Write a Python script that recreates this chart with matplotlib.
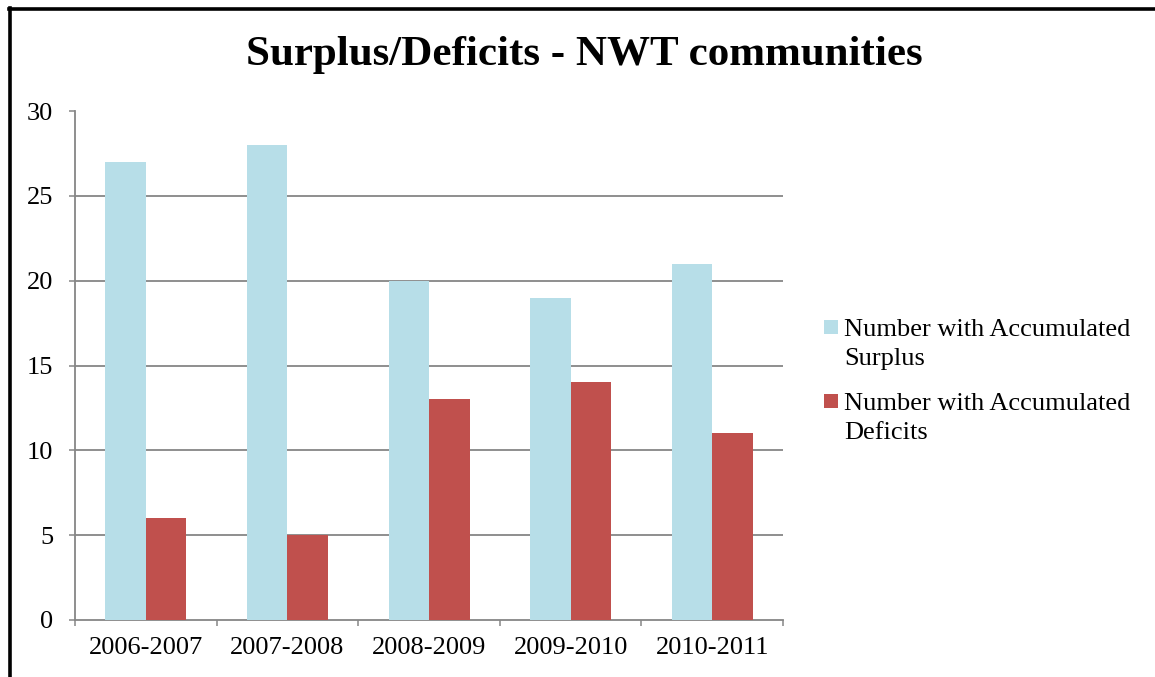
import matplotlib
matplotlib.use("Agg")
import matplotlib.pyplot as plt
from matplotlib.lines import Line2D
from matplotlib.patches import Rectangle
import numpy as np

plt.rcParams['font.family'] = ['Liberation Serif', 'DejaVu Serif']

# Fiscal years and counts of communities
years = ["2006-2007", "2007-2008", "2008-2009", "2009-2010", "2010-2011"]
surplus = [27, 28, 20, 19, 21]
deficits = [6, 5, 13, 14, 11]
series_labels = ["Number with Accumulated\nSurplus", "Number with Accumulated\nDeficits"]
y_ticks = [0, 5, 10, 15, 20, 25, 30]

surplus_color = "#B7DEE8"
deficit_color = "#C0504D"
axis_gray = "#868686"

W, H = 1155, 677
fig = plt.figure(figsize=(W / 100, H / 100), dpi=100)
ax = fig.add_axes([0.0649, 0.0842, 0.6131, 0.7518])

x = np.arange(len(years))
w = 0.286
ax.bar(x - w / 2, surplus, width=w, color=surplus_color, zorder=3)
ax.bar(x + w / 2, deficits, width=w, color=deficit_color, zorder=3)

ax.set_xlim(-0.5, len(years) - 0.5)
ax.set_ylim(0, 30)

# Horizontal gridlines (no line at the top value)
for v in y_ticks[1:-1]:
    ax.axhline(v, color=axis_gray, lw=1.3, zorder=1)

ax.set_yticks(y_ticks)
ax.tick_params(axis='y', direction='out', length=4.5, width=1.1, color=axis_gray,
               labelsize=19, pad=11)

ax.set_xticks(x)
ax.set_xticklabels(years)
ax.set_xticks(np.arange(-0.5, len(years)), minor=True)
ax.tick_params(axis='x', which='major', length=0, labelsize=19, pad=12)
ax.tick_params(axis='x', which='minor', direction='out', length=4.5, width=1.1, color=axis_gray)

for s in ("top", "right"):
    ax.spines[s].set_visible(False)
for s in ("left", "bottom"):
    ax.spines[s].set_color(axis_gray)
    ax.spines[s].set_linewidth(1.3)

fig.text(0.506, 1 - 55 / H, "Surplus/Deficits - NWT communities",
         ha='center', va='center', fontsize=31, fontweight='bold')

# Legend: square swatch beside the first line of each two-line label
legend_colors = [surplus_color, deficit_color]
legend_top_baselines = [336, 410]
line_step = 29
for label, color, base in zip(series_labels, legend_colors, legend_top_baselines):
    fig.add_artist(Rectangle((824 / W, 1 - (base - 2) / H), 14 / W, 14 / H,
                             transform=fig.transFigure, color=color, lw=0))
    for k, line in enumerate(label.split("\n")):
        fig.text(844 / W, 1 - (base + k * line_step) / H, line,
                 ha='left', va='baseline', fontsize=19)

# Outer frame lines along the top and left edges
fig.add_artist(Line2D([8.5 / W, 1.0], [1 - 8.5 / H, 1 - 8.5 / H],
                      transform=fig.transFigure, color='black', lw=2.6))
fig.add_artist(Line2D([9.5 / W, 9.5 / W], [0.0, 1 - 7.5 / H],
                      transform=fig.transFigure, color='black', lw=2.6))

fig.savefig("out.png", dpi=100)
